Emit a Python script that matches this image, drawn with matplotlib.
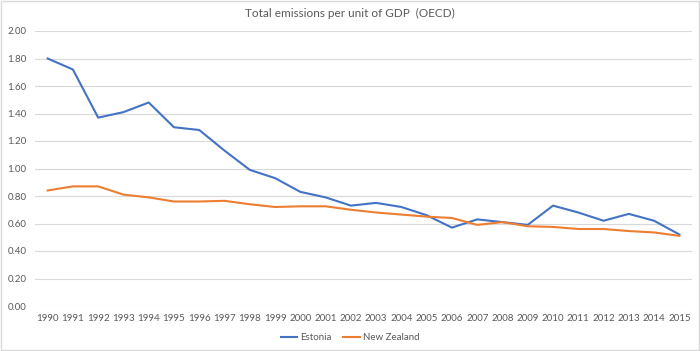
import matplotlib
matplotlib.use("Agg")
import matplotlib.pyplot as plt
from matplotlib.patches import Rectangle

years = list(range(1990, 2016))
estonia = [1.80, 1.72, 1.37, 1.41, 1.48, 1.30, 1.28, 1.13, 0.99, 0.93,
           0.83, 0.79, 0.73, 0.75, 0.72, 0.66, 0.57, 0.63, 0.61, 0.59,
           0.73, 0.68, 0.62, 0.67, 0.62, 0.52]
new_zealand = [0.84, 0.87, 0.87, 0.81, 0.79, 0.76, 0.76, 0.765, 0.74, 0.72,
               0.725, 0.725, 0.70, 0.68, 0.665, 0.65, 0.64, 0.59, 0.61, 0.58,
               0.575, 0.56, 0.56, 0.545, 0.535, 0.51]
y_ticks = [0.0, 0.2, 0.4, 0.6, 0.8, 1.0, 1.2, 1.4, 1.6, 1.8, 2.0]

plt.rcParams['font.family'] = ['Lato', 'DejaVu Sans']
text_col = '#595959'

fig = plt.figure(figsize=(7.0, 3.51), dpi=100)
ax = fig.add_axes([35/700, 1-306/351, 657/700, 275/351])

ax.plot(years, estonia, color='#4472C4', lw=1.5, label='Estonia')
ax.plot(years, new_zealand, color='#ED7D31', lw=1.5, label='New Zealand')

ax.set_xlim(1989.5, 2015.5)
ax.set_ylim(0, 2.0)
ax.set_xticks(years)
ax.set_xticklabels([str(y) for y in years], fontsize=7, color=text_col)
ax.set_yticks(y_ticks)
ax.set_yticklabels(['%.2f' % v for v in y_ticks], fontsize=7, color=text_col)
ax.tick_params(length=0, pad=6)
ax.grid(axis='y', color='#D9D9D9', lw=0.8)
ax.set_axisbelow(True)
for s in ax.spines.values():
    s.set_visible(False)

fig.text(0.5, 1-13/351, 'Total emissions per unit of GDP  (OECD)', ha='center', va='center',
         fontsize=8.5, color=text_col)

leg = fig.legend(loc='center', bbox_to_anchor=(0.5, 1-338/351), ncol=2, frameon=False,
                 fontsize=7, handlelength=1.7, handletextpad=0.3, columnspacing=1.2)
for t in leg.get_texts():
    t.set_color(text_col)

fig.patches.append(Rectangle((0.001, 0.002), 0.997, 0.995, transform=fig.transFigure,
                             fill=False, edgecolor='#D9D9D9', lw=1))

fig.savefig('out.png', dpi=100, facecolor='white')
